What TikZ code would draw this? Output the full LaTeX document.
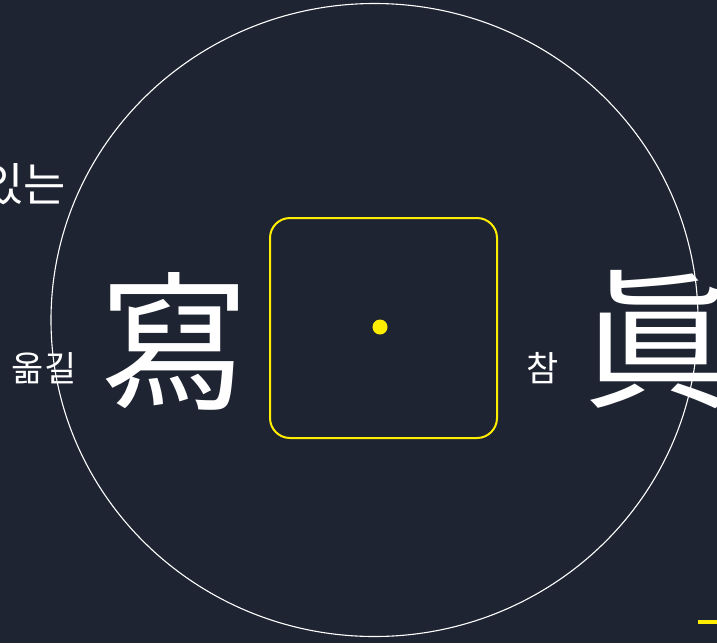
\documentclass[tikz,border=0pt]{standalone}
\usepackage{fontspec}
\newfontfamily\krfont{Noto Sans CJK KR}
\usetikzlibrary{calc}

\definecolor{nightsky}{RGB}{30,36,50}
\definecolor{markyellow}{RGB}{255,238,0}

\begin{document}
\begin{tikzpicture}[x=1pt,y=-1pt]

  \fill[nightsky] (0,0) rectangle (717,643); % backdrop
  \useasboundingbox (0,0) rectangle (717,643);

  \coordinate (o) at (374.5,320); % centre of the big ring
  \coordinate (dot) at (380,327); % yellow point
  \coordinate (b1) at (270,218); % box top left
  \coordinate (b2) at (497,438); % box bottom right

  \draw[white, line width=1.1pt] (o) ellipse [x radius=323.5, y radius=316.5];
  \draw[markyellow, line width=2pt, rounded corners=20pt] (b1) rectangle (b2);
  \fill[markyellow] (dot) circle (7.5);

  \node[white, inner sep=0, anchor=east] (itneun) at (66,184) {\krfont\fontsize{46}{46}\selectfont 있는};
  \node[white, inner sep=0] (omgil) at (44,368) {\krfont\fontsize{35}{35}\selectfont 옮길};
  \node[white, inner sep=0] (sa) at (174,341) {\krfont\fontsize{150}{150}\selectfont 寫};
  \node[white, inner sep=0] (cham) at (543,368) {\krfont\fontsize{35}{35}\selectfont 참};
  \node[white, inner sep=0, anchor=west] (jin) at (582,340) {\krfont\fontsize{150}{150}\selectfont 眞};

  \coordinate (m1) at (698,622); % yellow mark, bottom right
  \coordinate (m2) at (717,622);
  \draw[markyellow, line width=3.5pt] (m1) -- (m2);
\end{tikzpicture}
\end{document}
